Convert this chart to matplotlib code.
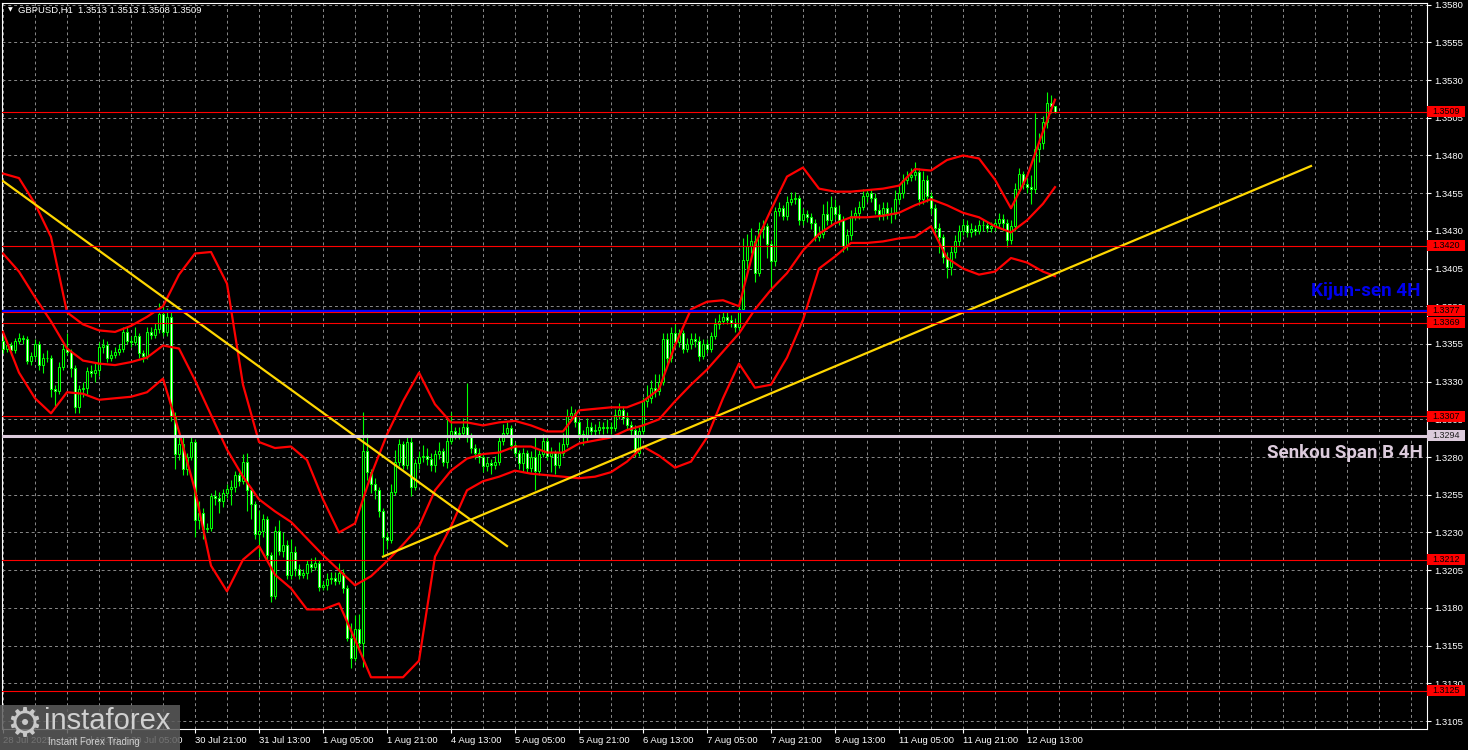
import numpy as np
import matplotlib.pyplot as plt
from matplotlib.patches import Rectangle
from matplotlib import transforms

# ---- data: GBPUSD H1, bar 0 = 28 Jul 21:00 ----
first_open = 1.3357
close = [
    1.3352, 1.3354, 1.3351, 1.3357, 1.3359, 1.3358, 1.3344, 1.3347, 1.3355, 1.3341, 1.3346, 1.3346, 1.3325, 1.3324, 1.3340, 1.3352,
    1.3350, 1.3339, 1.3313, 1.3325, 1.3326, 1.3337, 1.3336, 1.3338, 1.3353, 1.3354, 1.3346, 1.3348, 1.3350, 1.3352, 1.3363, 1.3357,
    1.3356, 1.3360, 1.3349, 1.3347, 1.3363, 1.3361, 1.3365, 1.3375, 1.3363, 1.3373, 1.3307, 1.3282, 1.3289, 1.3272, 1.3280, 1.3290,
    1.3238, 1.3243, 1.3232, 1.3233, 1.3254, 1.3253, 1.3251, 1.3256, 1.3259, 1.3260, 1.3268, 1.3264, 1.3277, 1.3258, 1.3249, 1.3229,
    1.3231, 1.3239, 1.3215, 1.3188, 1.3231, 1.3218, 1.3222, 1.3202, 1.3217, 1.3206, 1.3202, 1.3203, 1.3209, 1.3207, 1.3210, 1.3194,
    1.3195, 1.3199, 1.3200, 1.3198, 1.3203, 1.3193, 1.3160, 1.3147, 1.3166, 1.3157, 1.3284, 1.3270, 1.3262, 1.3258, 1.3244, 1.3227,
    1.3225, 1.3257, 1.3277, 1.3289, 1.3275, 1.3290, 1.3260, 1.3276, 1.3280, 1.3281, 1.3279, 1.3275, 1.3282, 1.3284, 1.3277, 1.3291,
    1.3297, 1.3295, 1.3296, 1.3300, 1.3293, 1.3286, 1.3283, 1.3280, 1.3274, 1.3276, 1.3275, 1.3277, 1.3291, 1.3296, 1.3299, 1.3288,
    1.3283, 1.3276, 1.3283, 1.3273, 1.3280, 1.3271, 1.3282, 1.3291, 1.3281, 1.3283, 1.3275, 1.3283, 1.3289, 1.3307, 1.3309, 1.3303,
    1.3295, 1.3294, 1.3300, 1.3297, 1.3298, 1.3300, 1.3299, 1.3300, 1.3299, 1.3308, 1.3311, 1.3306, 1.3301, 1.3298, 1.3283, 1.3297,
    1.3317, 1.3319, 1.3326, 1.3324, 1.3330, 1.3358, 1.3346, 1.3362, 1.3356, 1.3362, 1.3352, 1.3355, 1.3358, 1.3357, 1.3347, 1.3355,
    1.3352, 1.3360, 1.3368, 1.3370, 1.3373, 1.3371, 1.3369, 1.3366, 1.3378, 1.3411, 1.3420, 1.3423, 1.3402, 1.3431, 1.3433, 1.3421,
    1.3410, 1.3443, 1.3445, 1.3440, 1.3449, 1.3451, 1.3452, 1.3437, 1.3441, 1.3439, 1.3435, 1.3426, 1.3428, 1.3441, 1.3437, 1.3446,
    1.3441, 1.3437, 1.3420, 1.3427, 1.3440, 1.3442, 1.3446, 1.3453, 1.3455, 1.3452, 1.3444, 1.3441, 1.3445, 1.3442, 1.3441, 1.3451,
    1.3455, 1.3464, 1.3466, 1.3467, 1.3469, 1.3451, 1.3464, 1.3453, 1.3445, 1.3432, 1.3426, 1.3413, 1.3406, 1.3416, 1.3423, 1.3430,
    1.3434, 1.3429, 1.3431, 1.3430, 1.3434, 1.3434, 1.3432, 1.3433, 1.3435, 1.3438, 1.3435, 1.3424, 1.3433, 1.3458, 1.3468, 1.3461,
    1.3459, 1.3458, 1.3484, 1.3488, 1.3502, 1.3515, 1.3513, 1.3509,
]
high = [
    1.3360, 1.3357, 1.3356, 1.3359, 1.3362, 1.3361, 1.3360, 1.3350, 1.3358, 1.3357, 1.3349, 1.3351, 1.3348, 1.3328, 1.3343, 1.3355,
    1.3362, 1.3352, 1.3341, 1.3328, 1.3330, 1.3340, 1.3341, 1.3343, 1.3356, 1.3358, 1.3357, 1.3351, 1.3353, 1.3355, 1.3366, 1.3366,
    1.3360, 1.3366, 1.3362, 1.3351, 1.3366, 1.3366, 1.3369, 1.3382, 1.3380, 1.3379, 1.3377, 1.3310, 1.3294, 1.3293, 1.3283, 1.3294,
    1.3292, 1.3251, 1.3246, 1.3236, 1.3256, 1.3258, 1.3257, 1.3259, 1.3262, 1.3265, 1.3271, 1.3270, 1.3282, 1.3283, 1.3260, 1.3251,
    1.3245, 1.3242, 1.3241, 1.3217, 1.3234, 1.3238, 1.3230, 1.3225, 1.3226, 1.3221, 1.3209, 1.3206, 1.3212, 1.3213, 1.3214, 1.3212,
    1.3198, 1.3203, 1.3204, 1.3204, 1.3210, 1.3206, 1.3195, 1.3170, 1.3175, 1.3176, 1.3310, 1.3295, 1.3272, 1.3266, 1.3260, 1.3246,
    1.3230, 1.3262, 1.3285, 1.3292, 1.3291, 1.3294, 1.3293, 1.3279, 1.3284, 1.3288, 1.3286, 1.3283, 1.3285, 1.3290, 1.3286, 1.3305,
    1.3310, 1.3300, 1.3300, 1.3306, 1.3329, 1.3296, 1.3289, 1.3286, 1.3283, 1.3280, 1.3279, 1.3281, 1.3294, 1.3302, 1.3303, 1.3301,
    1.3290, 1.3285, 1.3286, 1.3285, 1.3284, 1.3293, 1.3285, 1.3295, 1.3293, 1.3287, 1.3285, 1.3290, 1.3296, 1.3312, 1.3314, 1.3312,
    1.3305, 1.3298, 1.3306, 1.3303, 1.3302, 1.3304, 1.3303, 1.3305, 1.3303, 1.3312, 1.3316, 1.3314, 1.3310, 1.3304, 1.3301, 1.3300,
    1.3320, 1.3328, 1.3331, 1.3335, 1.3335, 1.3362, 1.3362, 1.3366, 1.3368, 1.3365, 1.3364, 1.3359, 1.3362, 1.3362, 1.3360, 1.3358,
    1.3358, 1.3363, 1.3372, 1.3375, 1.3377, 1.3376, 1.3374, 1.3372, 1.3383, 1.3425, 1.3428, 1.3432, 1.3427, 1.3436, 1.3437, 1.3435,
    1.3424, 1.3446, 1.3449, 1.3447, 1.3453, 1.3456, 1.3456, 1.3454, 1.3445, 1.3444, 1.3442, 1.3438, 1.3433, 1.3448, 1.3450, 1.3453,
    1.3451, 1.3447, 1.3440, 1.3431, 1.3444, 1.3446, 1.3450, 1.3458, 1.3458, 1.3458, 1.3455, 1.3448, 1.3449, 1.3449, 1.3446, 1.3457,
    1.3460, 1.3468, 1.3470, 1.3472, 1.3476, 1.3472, 1.3470, 1.3467, 1.3456, 1.3448, 1.3435, 1.3428, 1.3416, 1.3420, 1.3427, 1.3434,
    1.3438, 1.3437, 1.3435, 1.3434, 1.3437, 1.3437, 1.3436, 1.3436, 1.3438, 1.3442, 1.3441, 1.3438, 1.3437, 1.3462, 1.3472, 1.3470,
    1.3465, 1.3467, 1.3508, 1.3495, 1.3506, 1.3522, 1.3520, 1.3513,
]
low = [
    1.3349, 1.3350, 1.3348, 1.3349, 1.3355, 1.3355, 1.3342, 1.3341, 1.3345, 1.3338, 1.3336, 1.3343, 1.3320, 1.3314, 1.3322, 1.3338,
    1.3348, 1.3333, 1.3309, 1.3309, 1.3320, 1.3322, 1.3333, 1.3330, 1.3334, 1.3349, 1.3343, 1.3344, 1.3346, 1.3348, 1.3350, 1.3355,
    1.3353, 1.3354, 1.3346, 1.3343, 1.3345, 1.3358, 1.3359, 1.3362, 1.3360, 1.3360, 1.3304, 1.3272, 1.3278, 1.3268, 1.3268, 1.3278,
    1.3227, 1.3232, 1.3226, 1.3230, 1.3231, 1.3248, 1.3243, 1.3247, 1.3253, 1.3248, 1.3257, 1.3261, 1.3262, 1.3244, 1.3239, 1.3226,
    1.3214, 1.3227, 1.3212, 1.3184, 1.3186, 1.3215, 1.3214, 1.3199, 1.3199, 1.3201, 1.3199, 1.3200, 1.3199, 1.3204, 1.3205, 1.3191,
    1.3192, 1.3192, 1.3196, 1.3195, 1.3196, 1.3190, 1.3158, 1.3140, 1.3145, 1.3151, 1.3141, 1.3265, 1.3256, 1.3252, 1.3240, 1.3215,
    1.3219, 1.3223, 1.3255, 1.3274, 1.3272, 1.3272, 1.3254, 1.3258, 1.3272, 1.3277, 1.3275, 1.3271, 1.3270, 1.3279, 1.3274, 1.3273,
    1.3289, 1.3292, 1.3292, 1.3293, 1.3290, 1.3283, 1.3279, 1.3276, 1.3270, 1.3271, 1.3269, 1.3272, 1.3275, 1.3288, 1.3294, 1.3285,
    1.3280, 1.3272, 1.3270, 1.3270, 1.3270, 1.3258, 1.3268, 1.3280, 1.3278, 1.3270, 1.3269, 1.3273, 1.3281, 1.3287, 1.3304, 1.3300,
    1.3292, 1.3288, 1.3291, 1.3294, 1.3293, 1.3295, 1.3295, 1.3296, 1.3295, 1.3297, 1.3305, 1.3302, 1.3298, 1.3294, 1.3280, 1.3281,
    1.3295, 1.3313, 1.3316, 1.3320, 1.3321, 1.3328, 1.3342, 1.3343, 1.3353, 1.3353, 1.3349, 1.3350, 1.3352, 1.3353, 1.3344, 1.3345,
    1.3349, 1.3350, 1.3358, 1.3365, 1.3368, 1.3368, 1.3366, 1.3363, 1.3364, 1.3376, 1.3405, 1.3415, 1.3396, 1.3400, 1.3425, 1.3412,
    1.3392, 1.3407, 1.3440, 1.3437, 1.3437, 1.3447, 1.3448, 1.3434, 1.3434, 1.3436, 1.3431, 1.3423, 1.3423, 1.3425, 1.3434, 1.3434,
    1.3438, 1.3434, 1.3416, 1.3417, 1.3424, 1.3437, 1.3438, 1.3444, 1.3449, 1.3449, 1.3441, 1.3437, 1.3437, 1.3438, 1.3435, 1.3438,
    1.3448, 1.3452, 1.3461, 1.3463, 1.3464, 1.3447, 1.3448, 1.3449, 1.3441, 1.3428, 1.3415, 1.3409, 1.3399, 1.3401, 1.3412, 1.3420,
    1.3427, 1.3426, 1.3426, 1.3427, 1.3428, 1.3430, 1.3429, 1.3429, 1.3430, 1.3432, 1.3430, 1.3419, 1.3421, 1.3430, 1.3455, 1.3458,
    1.3455, 1.3448, 1.3455, 1.3476, 1.3484, 1.3498, 1.3508, 1.3508,
]

# Bollinger bands read every 4 bars
band_bars = list(range(0, 261, 4)) + [263]
bb_upper = [
    1.3468, 1.3465, 1.3448, 1.3426, 1.3376, 1.3368, 1.3364, 1.3363, 1.3367, 1.3373,
    1.3380, 1.3401, 1.3415, 1.3416, 1.3395, 1.3328, 1.3290, 1.3286, 1.3287, 1.3278,
    1.3252, 1.3230, 1.3236, 1.3268, 1.3295, 1.3317, 1.3336, 1.3315, 1.3303, 1.3303,
    1.3301, 1.3303, 1.3304, 1.3301, 1.3297, 1.3297, 1.3311, 1.3312, 1.3313, 1.3313,
    1.3317, 1.3325, 1.3354, 1.3378, 1.3383, 1.3384, 1.3380, 1.3421, 1.3444, 1.3466,
    1.3472, 1.3458, 1.3456, 1.3456, 1.3457, 1.3458, 1.3460, 1.3471, 1.3470, 1.3477,
    1.3480, 1.3478, 1.3464, 1.3445, 1.3466, 1.3496, 1.3517,
]
bb_mid = [
    1.3415, 1.3403, 1.3386, 1.3370, 1.3352, 1.3344, 1.3342, 1.3341, 1.3343, 1.3346,
    1.3354, 1.3352, 1.3331, 1.3308, 1.3285, 1.3267, 1.3252, 1.3244, 1.3237, 1.3226,
    1.3215, 1.3205, 1.3195, 1.3201, 1.3211, 1.3222, 1.3234, 1.3258, 1.3271, 1.3279,
    1.3282, 1.3283, 1.3287, 1.3287, 1.3283, 1.3283, 1.3289, 1.3291, 1.3293, 1.3298,
    1.3301, 1.3305, 1.3317, 1.3328, 1.3338, 1.3350, 1.3362, 1.3378, 1.3391, 1.3402,
    1.3417, 1.3428, 1.3435, 1.3439, 1.3439, 1.3440, 1.3442, 1.3447, 1.3451, 1.3447,
    1.3442, 1.3439, 1.3433, 1.3429, 1.3437, 1.3448, 1.3459,
]
bb_lower = [
    1.3363, 1.3336, 1.3319, 1.3309, 1.3323, 1.3322, 1.3318, 1.3319, 1.3320, 1.3323,
    1.3332, 1.3297, 1.3258, 1.3208, 1.3191, 1.3212, 1.3221, 1.3202, 1.3193, 1.3179,
    1.3179, 1.3183, 1.3159, 1.3134, 1.3134, 1.3134, 1.3145, 1.3214, 1.3234, 1.3258,
    1.3264, 1.3267, 1.3271, 1.3269, 1.3268, 1.3267, 1.3266, 1.3267, 1.3270, 1.3277,
    1.3287, 1.3281, 1.3273, 1.3277, 1.3293, 1.3319, 1.3342, 1.3326, 1.3328, 1.3346,
    1.3371, 1.3405, 1.3413, 1.3422, 1.3422, 1.3423, 1.3425, 1.3426, 1.3433, 1.3412,
    1.3405, 1.3401, 1.3403, 1.3412, 1.3409, 1.3403, 1.3400,
]

# trend lines (bar, price)
trend_down_bars = [0, 126]
trend_down_prices = [1.3463, 1.3221]
trend_up_bars = [95, 327]
trend_up_prices = [1.3214, 1.3473]

# horizontal levels
red_levels = [1.3509, 1.3420, 1.3369, 1.3307, 1.3212, 1.3125]
kijun_level = 1.3377
senkou_level = 1.3294

price_ticks = [1.3105, 1.3130, 1.3155, 1.3180, 1.3205, 1.3230, 1.3255, 1.3280, 1.3305, 1.3330,
               1.3355, 1.3380, 1.3405, 1.3430, 1.3455, 1.3480, 1.3505, 1.3530, 1.3555, 1.3580]
time_tick_bars = list(range(0, 257, 16))
time_labels = ["28 Jul 2025", "29 Jul 13:00", "30 Jul 05:00", "30 Jul 21:00", "31 Jul 13:00",
               "1 Aug 05:00", "1 Aug 21:00", "4 Aug 13:00", "5 Aug 05:00", "5 Aug 21:00",
               "6 Aug 13:00", "7 Aug 05:00", "7 Aug 21:00", "8 Aug 13:00", "11 Aug 05:00",
               "11 Aug 21:00", "12 Aug 13:00"]

W, H = 1468, 750
FONT = ['Liberation Sans', 'DejaVu Sans']
BOLD_FONT = ['Roboto', 'DejaVu Sans']
GREEN = '#00ff00'

fig = plt.figure(figsize=(W / 100, H / 100), dpi=100, facecolor='black')
ax = fig.add_axes([2 / W, 21 / H, 1425 / W, 726 / H], facecolor='black')
ax.set_xlim(-0.25, 356)
ax.set_ylim(1.30997, 1.35811)

# grid
for gx in range(0, 357, 8):
    ax.axvline(gx, color='#8a8a8a', lw=0.7, ls=(0, (3, 3)), zorder=1)
for gy in price_ticks:
    ax.axhline(gy, color='#8a8a8a', lw=0.7, ls=(0, (3, 3)), zorder=1)

# candles
c = np.array(close)
o = np.r_[first_open, c[:-1]]
bars = np.arange(len(c))
ax.vlines(bars, low, high, color=GREEN, lw=0.8, zorder=3)
bull = c >= o
ax.bar(bars, np.abs(c - o), bottom=np.minimum(o, c), width=0.55,
       facecolor=np.where(bull, 'black', 'white'), edgecolor=GREEN, lw=0.75, zorder=4)

# bands
for band in (bb_upper, bb_mid, bb_lower):
    ax.plot(band_bars, band, color='#ff0000', lw=1.6, zorder=5, solid_joinstyle='round')

# trend lines
ax.plot(trend_down_bars, trend_down_prices, color='#ffd700', lw=1.6, zorder=6)
ax.plot(trend_up_bars, trend_up_prices, color='#ffd700', lw=1.6, zorder=6)

# levels
for lv in red_levels:
    ax.axhline(lv, color='#ff0000', lw=0.8, zorder=7)
ax.axhline(kijun_level, color='#0000ff', lw=1.6, zorder=7)
ax.axhline(kijun_level - 0.00008, color='#ff0000', lw=0.8, zorder=7)
ax.axhline(senkou_level, color='#dccbdc', lw=2.2, zorder=7)

ax.text(354.3, 1.3390, "Kijun-sen 4H", color='#0000ee', fontsize=13.5, fontweight='bold',
        family=BOLD_FONT, ha='right', va='center', zorder=8)
ax.text(355, 1.3283, "Senkou Span B 4H", color='#dccbdc', fontsize=13.5, fontweight='bold',
        family=BOLD_FONT, ha='right', va='center', zorder=8)

# axes styling
for side in ('left', 'top', 'right', 'bottom'):
    ax.spines[side].set_color('white')
    ax.spines[side].set_linewidth(0.8)
ax.yaxis.tick_right()
ax.set_yticks(price_ticks)
ax.set_yticklabels([f"{p:.4f}" for p in price_ticks])
ax.set_xticks(time_tick_bars)
ax.set_xticklabels(time_labels)
ax.tick_params(colors='white', length=3, width=0.8, labelsize=6.8, pad=2)
for lab in ax.get_xticklabels():
    lab.set_ha('left')
    lab.set_family(FONT)
for lab in ax.get_yticklabels():
    lab.set_family(FONT)

# price boxes on the right
tr = transforms.blended_transform_factory(ax.transAxes, ax.transData)
box_h = 0.00073
box_w = 38 / 1425
for lv, fc, tc in [(p, '#ff0000', 'black') for p in red_levels] + [(kijun_level, '#ff0000', 'black'),
                                                                      (senkou_level, '#dccbdc', '#202020')]:
    ax.add_patch(Rectangle((1.0, lv - box_h / 2), box_w, box_h, transform=tr, facecolor=fc,
                           edgecolor='none', clip_on=False, zorder=20))
    ax.text(1.0 + box_w / 2, lv, f"{lv:.4f}", transform=tr, color=tc, fontsize=6.5, family=FONT,
            ha='center', va='center', clip_on=False, zorder=21)

# header
fig.text(8 / W, 1 - 10 / H, "\u25bc", color='white', fontsize=4.5, family='DejaVu Sans', va='center')
fig.text(18 / W, 1 - 10 / H, "GBPUSD,H1  1.3513 1.3513 1.3508 1.3509", color='white',
         fontsize=6.8, family=FONT, va='center')

# watermark logo
fig.patches.append(Rectangle((0, 0), 180 / W, 45 / H, transform=fig.transFigure,
                             facecolor='#5c5c5c', alpha=0.85, edgecolor='none', zorder=30))
fig.text(24 / W, 1 - 725 / H, "\u2699", color='#c8c8c8', fontsize=29, family='DejaVu Sans',
         ha='center', va='center', zorder=31)
fig.text(44 / W, 1 - 721 / H, "instaforex", color='#d0d0d0', fontsize=21, family=FONT,
         va='center', zorder=31)
fig.text(48 / W, 1 - 742 / H, "Instant Forex Trading", color='#d0d0d0', fontsize=7, family=FONT,
         va='center', zorder=31)

fig.savefig("out.png", dpi=100, facecolor='black')
